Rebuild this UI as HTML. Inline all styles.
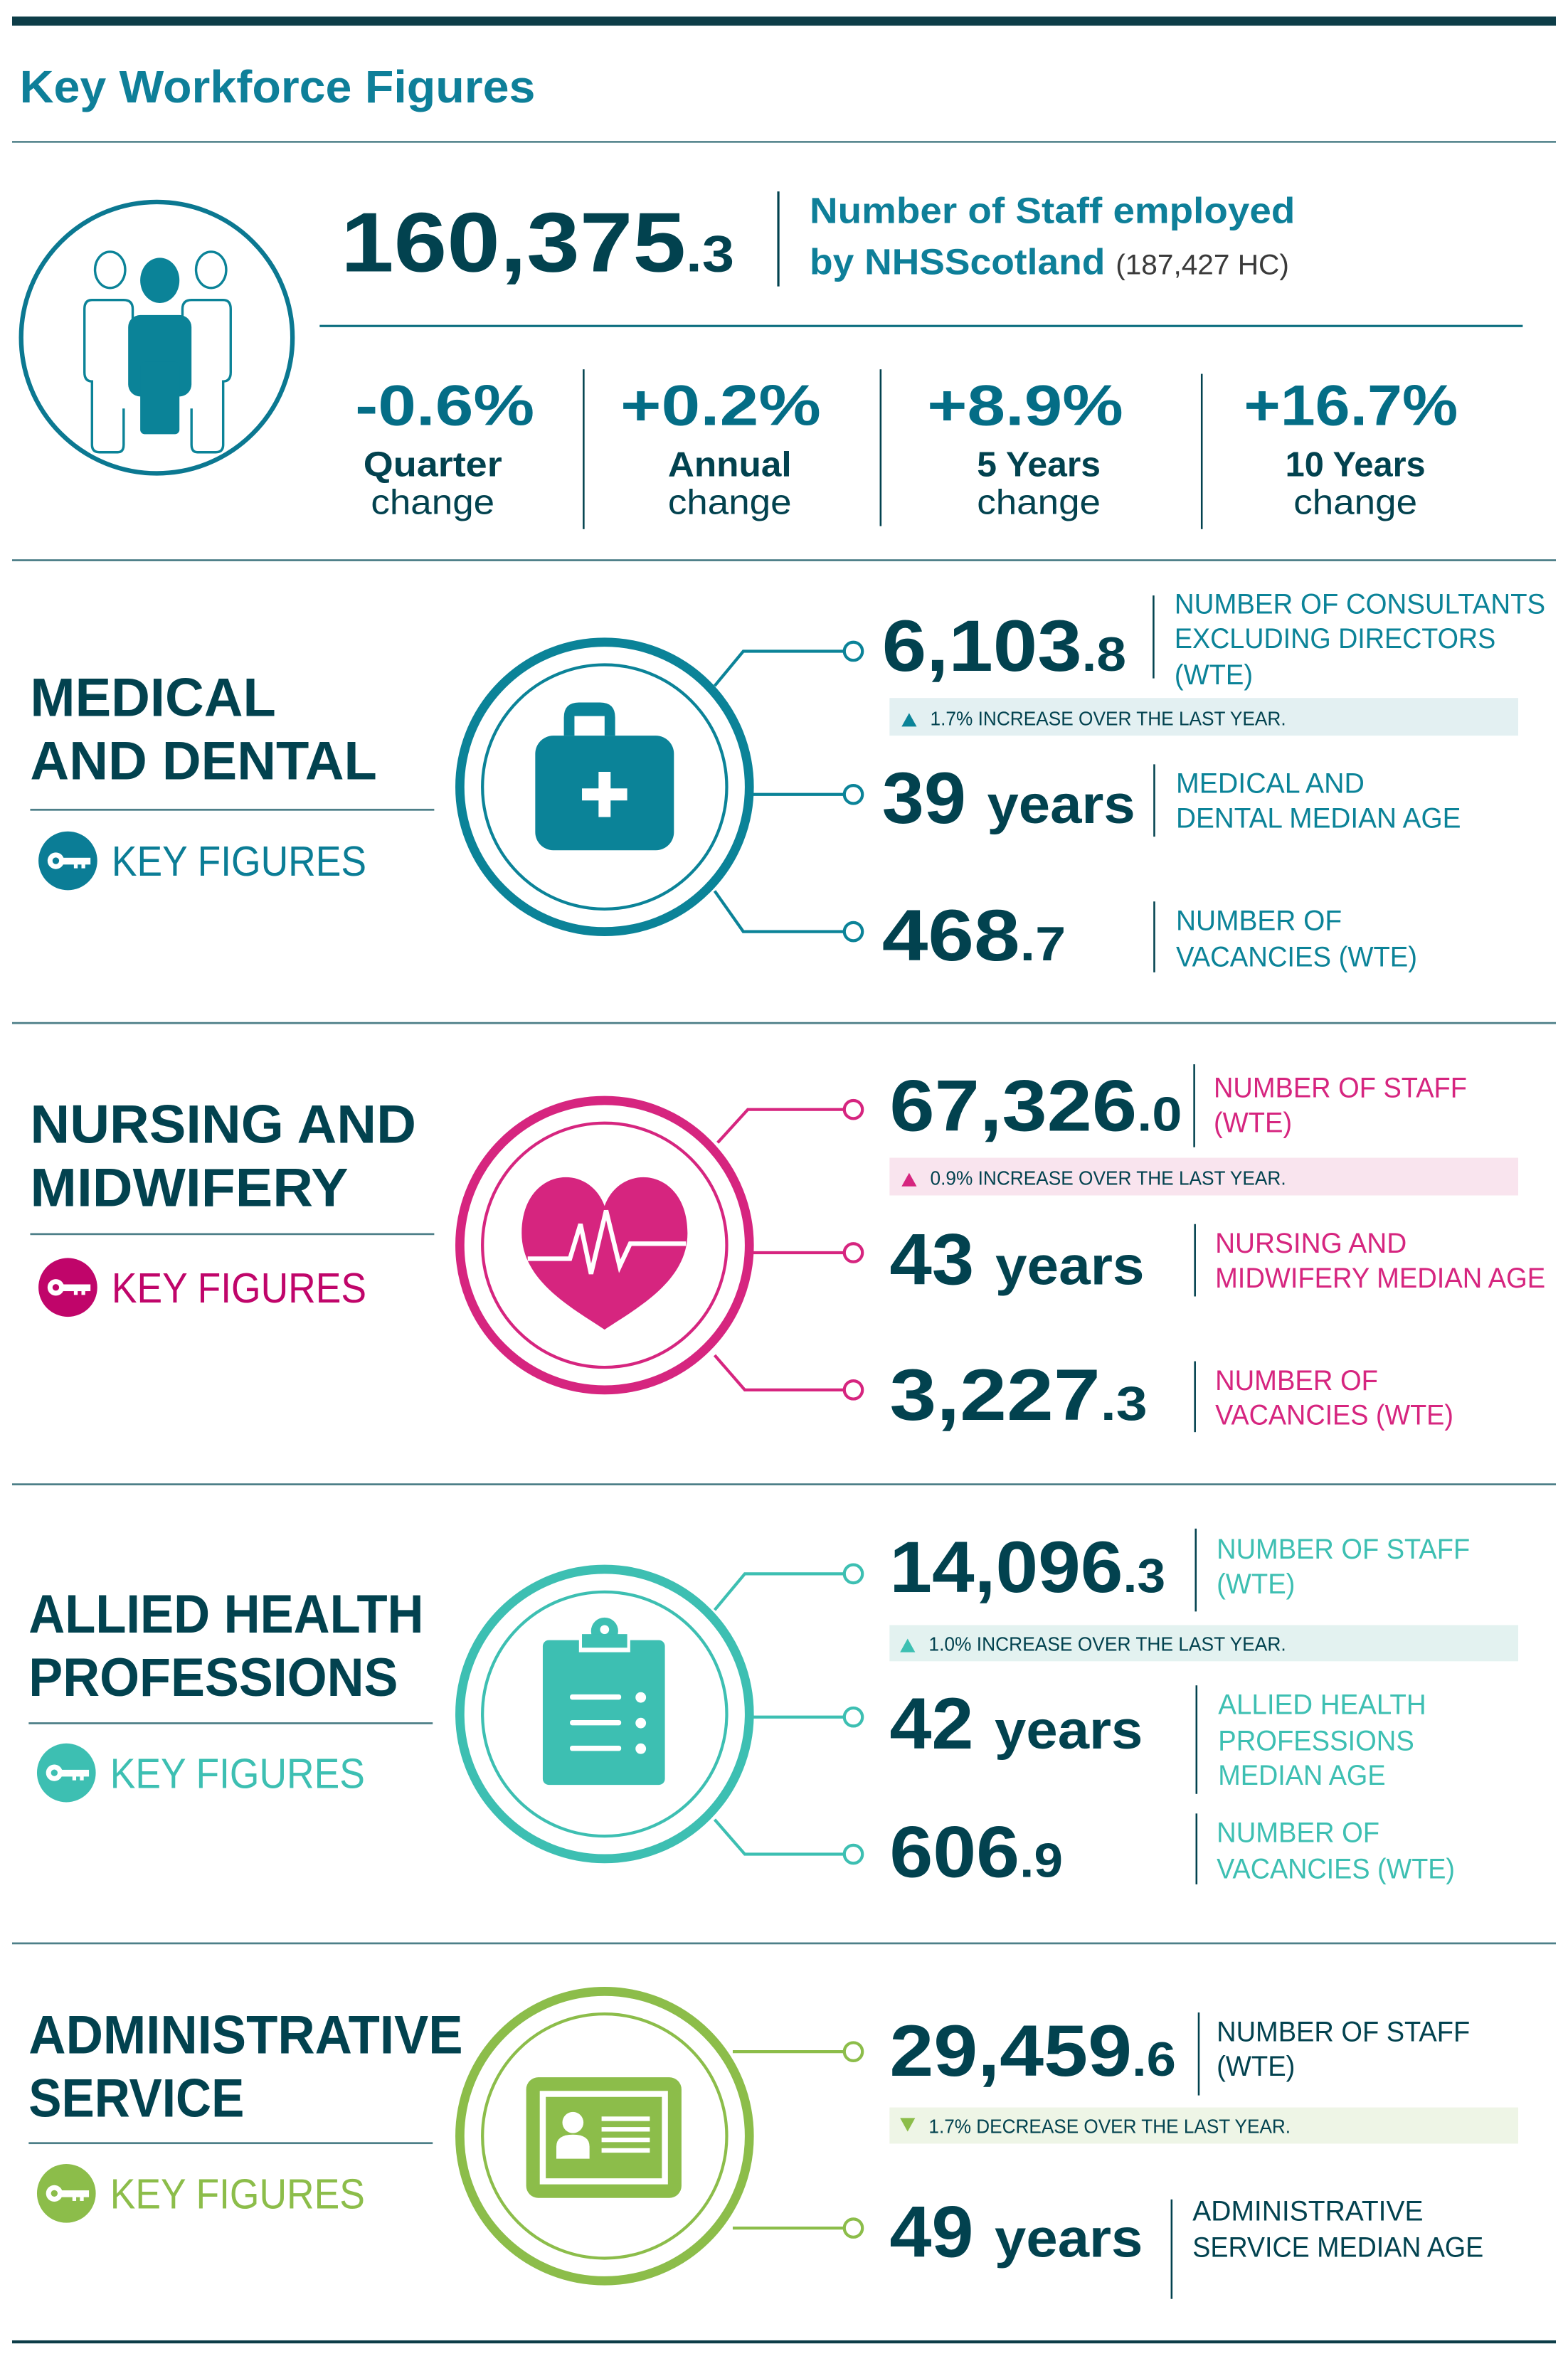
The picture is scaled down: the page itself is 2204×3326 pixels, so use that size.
<!DOCTYPE html>
<html><head><meta charset="utf-8"><style>
html,body{margin:0;padding:0;background:#fff;}
svg{display:block;}
text{font-family:"Liberation Sans",sans-serif;}
.b{font-weight:bold;}
</style></head><body>
<svg width="2204" height="3326" viewBox="0 0 1040 1569.5" xmlns="http://www.w3.org/2000/svg">
<rect width="1040" height="1570" fill="#fff"/>
<!-- header -->
<rect x="8" y="11" width="1024" height="6" fill="#0d3d48"/>
<text x="13" y="68" class="b" font-size="30" fill="#0e7f99" textLength="342" lengthAdjust="spacingAndGlyphs">Key Workforce Figures</text>
<rect x="8" y="93.5" width="1024" height="1.2" fill="#4d7f88"/>

<!-- people icon -->
<circle cx="104" cy="224" r="90" fill="none" stroke="#0b7891" stroke-width="3"/>
<g fill="none" stroke="#0b8398" stroke-width="1.6">
<ellipse cx="73" cy="179" rx="10" ry="12"/>
<ellipse cx="140" cy="179" rx="10" ry="12"/>
<path d="M88 212 v-7 q0-6 -6-6 h-21 q-5 0-5 6 v42 q0 6 5 6 v42 q0 5 5 5 h12 q4 0 4-5 v-24"/>
<path d="M121 212 v-7 q0-6 6-6 h21 q5 0 5 6 v42 q0 6 -5 6 v42 q0 5 -5 5 h-12 q-4 0-4-5 v-24"/>
</g>
<g fill="#0b8398">
<ellipse cx="106" cy="186" rx="13" ry="15"/>
<rect x="85" y="209" width="42" height="54" rx="8"/>
<rect x="93" y="240" width="26" height="48" rx="3"/>
</g>

<text x="226" y="180" class="b" font-size="56" fill="#02424f" textLength="261" lengthAdjust="spacingAndGlyphs">160,375<tspan font-size="34">.3</tspan></text>
<rect x="515.5" y="127" width="1.5" height="63" fill="#02424f"/>
<text x="537" y="148" class="b" font-size="24" fill="#0e7f99" textLength="322" lengthAdjust="spacingAndGlyphs">Number of Staff employed</text>
<text x="537" y="182" class="b" font-size="24" fill="#0e7f99" textLength="196" lengthAdjust="spacingAndGlyphs">by NHSScotland</text>
<text x="740" y="182" font-size="19" fill="#3a3a3a" textLength="115" lengthAdjust="spacingAndGlyphs">(187,427 HC)</text>
<rect x="212" y="215.5" width="798" height="1.5" fill="#0d6f80"/>

<g text-anchor="middle">
<text x="295" y="282" class="b" font-size="38" fill="#046d86" textLength="119" lengthAdjust="spacingAndGlyphs">-0.6%</text>
<text x="287" y="316" class="b" font-size="23" fill="#02424f" textLength="92" lengthAdjust="spacingAndGlyphs">Quarter</text>
<text x="287" y="341" font-size="23" fill="#02424f" textLength="82" lengthAdjust="spacingAndGlyphs">change</text>
<text x="478" y="282" class="b" font-size="38" fill="#046d86" textLength="133" lengthAdjust="spacingAndGlyphs">+0.2%</text>
<text x="484" y="316" class="b" font-size="23" fill="#02424f" textLength="82" lengthAdjust="spacingAndGlyphs">Annual</text>
<text x="484" y="341" font-size="23" fill="#02424f" textLength="82" lengthAdjust="spacingAndGlyphs">change</text>
<text x="680" y="282" class="b" font-size="38" fill="#046d86" textLength="130" lengthAdjust="spacingAndGlyphs">+8.9%</text>
<text x="689" y="316" class="b" font-size="23" fill="#02424f" textLength="82" lengthAdjust="spacingAndGlyphs">5 Years</text>
<text x="689" y="341" font-size="23" fill="#02424f" textLength="82" lengthAdjust="spacingAndGlyphs">change</text>
<text x="896" y="282" class="b" font-size="38" fill="#046d86" textLength="142" lengthAdjust="spacingAndGlyphs">+16.7%</text>
<text x="899" y="316" class="b" font-size="23" fill="#02424f" textLength="93" lengthAdjust="spacingAndGlyphs">10 Years</text>
<text x="899" y="341" font-size="23" fill="#02424f" textLength="82" lengthAdjust="spacingAndGlyphs">change</text>
</g>
<rect x="386.5" y="245" width="1.2" height="106" fill="#02424f"/>
<rect x="583.5" y="245" width="1.2" height="104" fill="#02424f"/>
<rect x="796.5" y="248" width="1.2" height="103" fill="#02424f"/>
<rect x="8" y="371" width="1024" height="1.3" fill="#4d7f88"/>

<!-- ===== MEDICAL ===== -->
<text x="20" y="475" class="b" font-size="36" fill="#02424f" textLength="163" lengthAdjust="spacingAndGlyphs">MEDICAL</text>
<text x="20" y="517" class="b" font-size="36" fill="#02424f" textLength="230" lengthAdjust="spacingAndGlyphs">AND DENTAL</text>
<rect x="20" y="536.5" width="268" height="1.3" fill="#4d7f88"/>
<circle cx="45" cy="571" r="19.5" fill="#0b7d96"/>
<g fill="#fff"><circle cx="37" cy="571" r="5.5"/><rect x="40" y="569" width="20" height="4.5"/><rect x="49" y="572" width="2.5" height="4"/><rect x="54" y="572" width="2.5" height="4"/></g>
<circle cx="37" cy="571" r="2.2" fill="#0b7d96"/>
<text x="74" y="581" font-size="28" fill="#0b7d96" textLength="169" lengthAdjust="spacingAndGlyphs">KEY FIGURES</text>

<g stroke="#0b8398" fill="none">
<circle cx="401" cy="522" r="96" stroke-width="6"/>
<circle cx="401" cy="522" r="81" stroke-width="2"/>
<path d="M474 455 L493 432 H560 M498 527 H560 M474 591 L493 618 H560" stroke-width="2"/>
<circle cx="566" cy="432" r="6" stroke-width="2" fill="#fff"/>
<circle cx="566" cy="527" r="6" stroke-width="2" fill="#fff"/>
<circle cx="566" cy="618" r="6" stroke-width="2" fill="#fff"/>
</g>
<path d="M374 488 v-12 q0-10 10-10 h14 q10 0 10 10 v12 h-7 v-13 h-20 v13 z" fill="#0b8398"/>
<rect x="355" y="488" width="92" height="76" rx="12" fill="#0b8398"/>
<rect x="397" y="512" width="8" height="30" fill="#fff"/><rect x="386" y="523" width="30" height="8" fill="#fff"/>

<text x="585" y="445" class="b" font-size="48" fill="#02424f" textLength="162" lengthAdjust="spacingAndGlyphs">6,103<tspan font-size="32">.8</tspan></text>
<rect x="764.5" y="395" width="1.2" height="55" fill="#02424f"/>
<g font-size="19" fill="#0b8398">
<text x="779" y="407" textLength="246" lengthAdjust="spacingAndGlyphs">NUMBER OF CONSULTANTS</text>
<text x="779" y="430" textLength="213" lengthAdjust="spacingAndGlyphs">EXCLUDING DIRECTORS</text>
<text x="779" y="454" textLength="52" lengthAdjust="spacingAndGlyphs">(WTE)</text>
</g>
<rect x="590" y="463" width="417" height="25" fill="#e3f0f2"/>
<path d="M598 482 l5 -9 l5 9z" fill="#0b8398"/>
<text x="617" y="481" font-size="13" fill="#02424f" textLength="236" lengthAdjust="spacingAndGlyphs">1.7% INCREASE OVER THE LAST YEAR.</text>
<text x="585" y="546" class="b" font-size="48" fill="#02424f" textLength="168" lengthAdjust="spacingAndGlyphs">39 <tspan font-size="36">years</tspan></text>
<rect x="765" y="507" width="1.2" height="48" fill="#02424f"/>
<g font-size="19" fill="#0b8398">
<text x="780" y="526" textLength="125" lengthAdjust="spacingAndGlyphs">MEDICAL AND</text>
<text x="780" y="549" textLength="189" lengthAdjust="spacingAndGlyphs">DENTAL MEDIAN AGE</text>
<text x="780" y="617" textLength="110" lengthAdjust="spacingAndGlyphs">NUMBER OF</text>
<text x="780" y="641" textLength="160" lengthAdjust="spacingAndGlyphs">VACANCIES (WTE)</text>
</g>
<text x="585" y="637" class="b" font-size="48" fill="#02424f" textLength="122" lengthAdjust="spacingAndGlyphs">468<tspan font-size="32">.7</tspan></text>
<rect x="765" y="598" width="1.2" height="47" fill="#02424f"/>
<rect x="8" y="678" width="1024" height="1.3" fill="#4d7f88"/>

<!-- ===== NURSING ===== -->
<text x="20" y="758" class="b" font-size="36" fill="#02424f" textLength="256" lengthAdjust="spacingAndGlyphs">NURSING AND</text>
<text x="20" y="800" class="b" font-size="36" fill="#02424f" textLength="211" lengthAdjust="spacingAndGlyphs">MIDWIFERY</text>
<rect x="20" y="818" width="268" height="1.3" fill="#4d7f88"/>
<circle cx="45" cy="854" r="19.5" fill="#c0056a"/>
<g fill="#fff"><circle cx="37" cy="854" r="5.5"/><rect x="40" y="852" width="20" height="4.5"/><rect x="49" y="855" width="2.5" height="4"/><rect x="54" y="855" width="2.5" height="4"/></g>
<circle cx="37" cy="854" r="2.2" fill="#c0056a"/>
<text x="74" y="864" font-size="28" fill="#c0056a" textLength="169" lengthAdjust="spacingAndGlyphs">KEY FIGURES</text>

<g stroke="#d6257f" fill="none">
<circle cx="401" cy="826" r="96" stroke-width="6"/>
<circle cx="401" cy="826" r="81" stroke-width="2"/>
<path d="M476 758 L496 736 H560 M498 831 H560 M474 899 L494 922 H560" stroke-width="2"/>
<circle cx="566" cy="736" r="6" stroke-width="2" fill="#fff"/>
<circle cx="566" cy="831" r="6" stroke-width="2" fill="#fff"/>
<circle cx="566" cy="922" r="6" stroke-width="2" fill="#fff"/>
</g>
<path d="M401 800 C390 770 346 775 346 818 C346 850 380 868 401 882 C422 868 456 850 456 818 C456 775 412 770 401 800Z" fill="#d6257f"/>
<path d="M350 835 H378 L385 812 L392 845 L402 803 L411 840 L418 825 H455" fill="none" stroke="#fff" stroke-width="3"/>

<text x="590" y="750" class="b" font-size="48" fill="#02424f" textLength="194" lengthAdjust="spacingAndGlyphs">67,326<tspan font-size="32">.0</tspan></text>
<rect x="791.5" y="706" width="1.2" height="55" fill="#02424f"/>
<g font-size="19" fill="#d6257f">
<text x="805" y="728" textLength="168" lengthAdjust="spacingAndGlyphs">NUMBER OF STAFF</text>
<text x="805" y="751" textLength="52" lengthAdjust="spacingAndGlyphs">(WTE)</text>
<text x="806" y="831" textLength="127" lengthAdjust="spacingAndGlyphs">NURSING AND</text>
<text x="806" y="854" textLength="219" lengthAdjust="spacingAndGlyphs">MIDWIFERY MEDIAN AGE</text>
<text x="806" y="922" textLength="108" lengthAdjust="spacingAndGlyphs">NUMBER OF</text>
<text x="806" y="945" textLength="158" lengthAdjust="spacingAndGlyphs">VACANCIES (WTE)</text>
</g>
<rect x="590" y="768" width="417" height="25" fill="#f9e4ee"/>
<path d="M598 787 l5 -9 l5 9z" fill="#d6257f"/>
<text x="617" y="786" font-size="13" fill="#02424f" textLength="236" lengthAdjust="spacingAndGlyphs">0.9% INCREASE OVER THE LAST YEAR.</text>
<text x="590" y="852" class="b" font-size="48" fill="#02424f" textLength="169" lengthAdjust="spacingAndGlyphs">43 <tspan font-size="36">years</tspan></text>
<rect x="792" y="812" width="1.2" height="48" fill="#02424f"/>
<text x="590" y="942" class="b" font-size="48" fill="#02424f" textLength="171" lengthAdjust="spacingAndGlyphs">3,227<tspan font-size="32">.3</tspan></text>
<rect x="792" y="903" width="1.2" height="47" fill="#02424f"/>
<rect x="8" y="984" width="1024" height="1.3" fill="#4d7f88"/>

<!-- ===== ALLIED ===== -->
<text x="19" y="1083" class="b" font-size="36" fill="#02424f" textLength="262" lengthAdjust="spacingAndGlyphs">ALLIED HEALTH</text>
<text x="19" y="1125" class="b" font-size="36" fill="#02424f" textLength="245" lengthAdjust="spacingAndGlyphs">PROFESSIONS</text>
<rect x="19" y="1142.5" width="268" height="1.3" fill="#4d7f88"/>
<circle cx="44" cy="1176" r="19.5" fill="#3dbfb2"/>
<g fill="#fff"><circle cx="36" cy="1176" r="5.5"/><rect x="39" y="1174" width="20" height="4.5"/><rect x="48" y="1177" width="2.5" height="4"/><rect x="53" y="1177" width="2.5" height="4"/></g>
<circle cx="36" cy="1176" r="2.2" fill="#3dbfb2"/>
<text x="73" y="1186" font-size="28" fill="#3dbfb2" textLength="169" lengthAdjust="spacingAndGlyphs">KEY FIGURES</text>

<g stroke="#3dbfb2" fill="none">
<circle cx="401" cy="1137" r="96" stroke-width="6"/>
<circle cx="401" cy="1137" r="81" stroke-width="2"/>
<path d="M474 1068 L494 1044 H560 M498 1139 H560 M474 1207 L494 1230 H560" stroke-width="2"/>
<circle cx="566" cy="1044" r="6" stroke-width="2" fill="#fff"/>
<circle cx="566" cy="1139" r="6" stroke-width="2" fill="#fff"/>
<circle cx="566" cy="1230" r="6" stroke-width="2" fill="#fff"/>
</g>
<rect x="360" y="1088" width="81" height="96" rx="4" fill="#3dbfb2"/>
<circle cx="401" cy="1082" r="9" fill="#3dbfb2"/><circle cx="401" cy="1081" r="3" fill="#fff"/>
<rect x="384" y="1086" width="34" height="10" fill="#fff"/><rect x="386" y="1084" width="30" height="9" fill="#3dbfb2"/>
<g fill="#fff">
<rect x="378" y="1124" width="34" height="3.5" rx="1.5"/><circle cx="425" cy="1126" r="3.5"/>
<rect x="378" y="1141" width="34" height="3.5" rx="1.5"/><circle cx="425" cy="1143" r="3.5"/>
<rect x="378" y="1158" width="34" height="3.5" rx="1.5"/><circle cx="425" cy="1160" r="3.5"/>
</g>

<text x="590" y="1056" class="b" font-size="48" fill="#02424f" textLength="183" lengthAdjust="spacingAndGlyphs">14,096<tspan font-size="32">.3</tspan></text>
<rect x="792.5" y="1014" width="1.2" height="55" fill="#02424f"/>
<g font-size="19" fill="#3dbfb2">
<text x="807" y="1034" textLength="168" lengthAdjust="spacingAndGlyphs">NUMBER OF STAFF</text>
<text x="807" y="1057" textLength="52" lengthAdjust="spacingAndGlyphs">(WTE)</text>
<text x="808" y="1137" textLength="138" lengthAdjust="spacingAndGlyphs">ALLIED HEALTH</text>
<text x="808" y="1161" textLength="130" lengthAdjust="spacingAndGlyphs">PROFESSIONS</text>
<text x="808" y="1184" textLength="111" lengthAdjust="spacingAndGlyphs">MEDIAN AGE</text>
<text x="807" y="1222" textLength="108" lengthAdjust="spacingAndGlyphs">NUMBER OF</text>
<text x="807" y="1246" textLength="158" lengthAdjust="spacingAndGlyphs">VACANCIES (WTE)</text>
</g>
<rect x="590" y="1078" width="417" height="24" fill="#e3f2f0"/>
<path d="M597 1096 l5 -9 l5 9z" fill="#3dbfb2"/>
<text x="616" y="1095" font-size="13" fill="#02424f" textLength="237" lengthAdjust="spacingAndGlyphs">1.0% INCREASE OVER THE LAST YEAR.</text>
<text x="590" y="1160" class="b" font-size="48" fill="#02424f" textLength="168" lengthAdjust="spacingAndGlyphs">42 <tspan font-size="36">years</tspan></text>
<rect x="793" y="1118" width="1.2" height="72" fill="#02424f"/>
<text x="590" y="1245" class="b" font-size="48" fill="#02424f" textLength="115" lengthAdjust="spacingAndGlyphs">606<tspan font-size="32">.9</tspan></text>
<rect x="793" y="1203" width="1.2" height="47" fill="#02424f"/>
<rect x="8" y="1288.5" width="1024" height="1.3" fill="#4d7f88"/>

<!-- ===== ADMIN ===== -->
<text x="19" y="1362" class="b" font-size="36" fill="#02424f" textLength="288" lengthAdjust="spacingAndGlyphs">ADMINISTRATIVE</text>
<text x="19" y="1404" class="b" font-size="36" fill="#02424f" textLength="143" lengthAdjust="spacingAndGlyphs">SERVICE</text>
<rect x="19" y="1421" width="268" height="1.3" fill="#4d7f88"/>
<circle cx="44" cy="1455" r="19.5" fill="#8cbd4a"/>
<g fill="#fff"><circle cx="36" cy="1455" r="5.5"/><rect x="39" y="1453" width="20" height="4.5"/><rect x="48" y="1456" width="2.5" height="4"/><rect x="53" y="1456" width="2.5" height="4"/></g>
<circle cx="36" cy="1455" r="2.2" fill="#8cbd4a"/>
<text x="73" y="1465" font-size="28" fill="#8cbd4a" textLength="169" lengthAdjust="spacingAndGlyphs">KEY FIGURES</text>

<g stroke="#8cbd4a" fill="none">
<circle cx="401" cy="1417" r="96" stroke-width="6"/>
<circle cx="401" cy="1417" r="81" stroke-width="2"/>
<path d="M486 1361 H560 M486 1478 H560" stroke-width="2"/>
<circle cx="566" cy="1361" r="6" stroke-width="2" fill="#fff"/>
<circle cx="566" cy="1478" r="6" stroke-width="2" fill="#fff"/>
</g>
<rect x="349" y="1378" width="103" height="80" rx="8" fill="#8cbd4a"/>
<rect x="358" y="1387" width="85" height="62" fill="#fff"/>
<rect x="362" y="1391" width="77" height="54" fill="#8cbd4a"/>
<circle cx="380" cy="1408" r="7" fill="#fff"/>
<path d="M369 1432 v-8 q0-8 11-8 q11 0 11 8 v8z" fill="#fff"/>
<g fill="#fff"><rect x="399" y="1404" width="32" height="3"/><rect x="399" y="1411" width="32" height="3"/><rect x="399" y="1418" width="32" height="3"/><rect x="399" y="1425" width="32" height="3"/></g>

<text x="590" y="1377" class="b" font-size="48" fill="#02424f" textLength="190" lengthAdjust="spacingAndGlyphs">29,459<tspan font-size="32">.6</tspan></text>
<rect x="794.5" y="1335" width="1.2" height="55" fill="#02424f"/>
<g font-size="19" fill="#02424f">
<text x="807" y="1354" textLength="168" lengthAdjust="spacingAndGlyphs">NUMBER OF STAFF</text>
<text x="807" y="1377" textLength="52" lengthAdjust="spacingAndGlyphs">(WTE)</text>
<text x="791" y="1473" textLength="153" lengthAdjust="spacingAndGlyphs">ADMINISTRATIVE</text>
<text x="791" y="1497" textLength="193" lengthAdjust="spacingAndGlyphs">SERVICE MEDIAN AGE</text>
</g>
<rect x="590" y="1398" width="417" height="24" fill="#eef5e6"/>
<path d="M597 1405 l5 9 l5 -9z" fill="#8cbd4a"/>
<text x="616" y="1415" font-size="13" fill="#02424f" textLength="240" lengthAdjust="spacingAndGlyphs">1.7% DECREASE OVER THE LAST YEAR.</text>
<text x="590" y="1497" class="b" font-size="48" fill="#02424f" textLength="168" lengthAdjust="spacingAndGlyphs">49 <tspan font-size="36">years</tspan></text>
<rect x="776.5" y="1459" width="1.2" height="66" fill="#02424f"/>
<rect x="8" y="1552.5" width="1024" height="2" fill="#0d3d48"/>
</svg>
</body></html>
